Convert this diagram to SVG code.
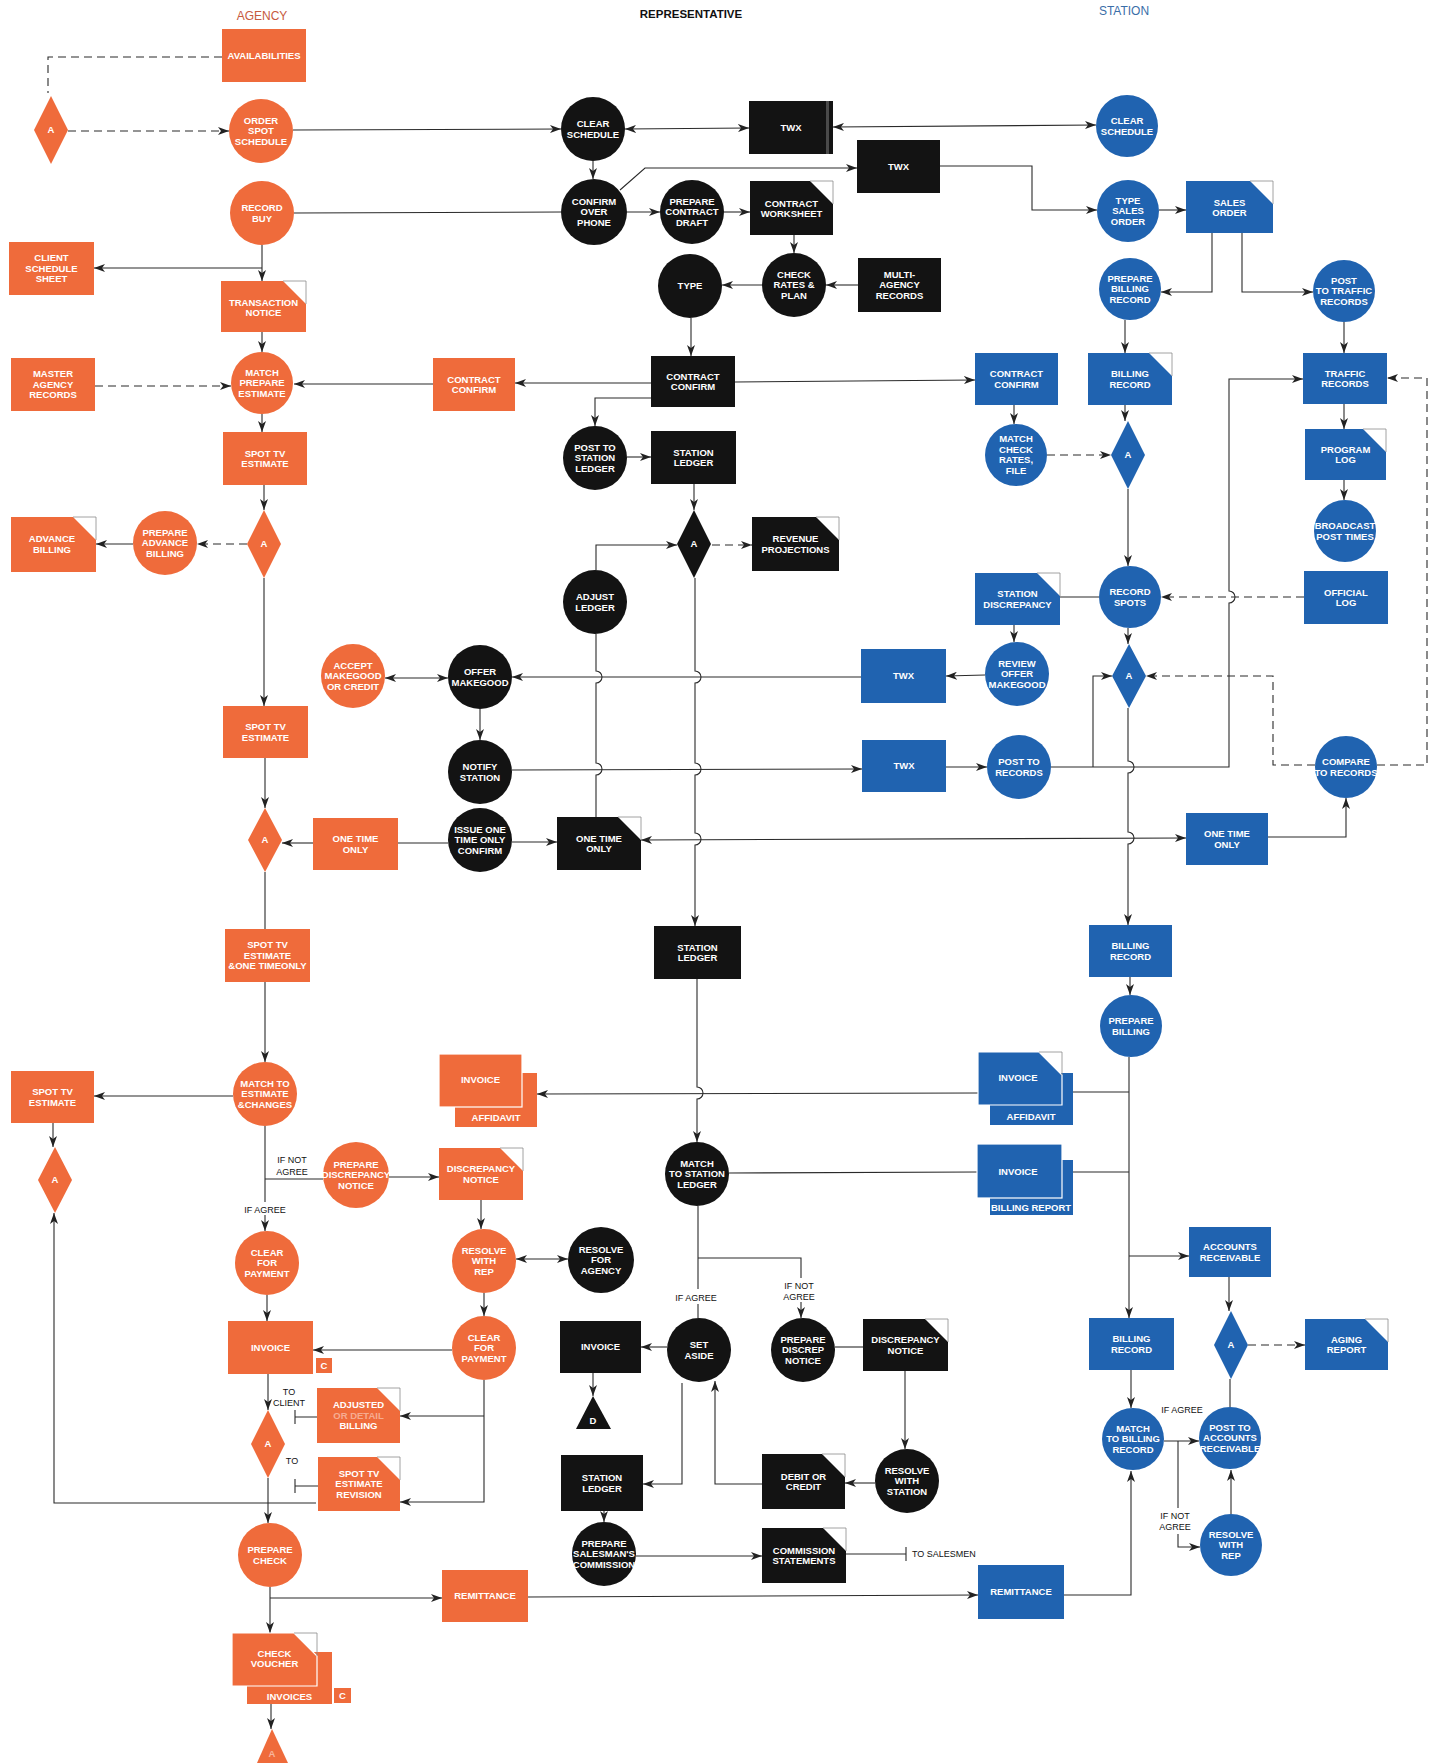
<svg xmlns="http://www.w3.org/2000/svg" width="1436" height="1764" viewBox="0 0 1436 1764">
<defs>
<style>
.o{fill:#ef6b3b}
.k{fill:#131313}
.b{fill:#2063b0}
.t{font-family:"Liberation Sans",Arial,sans-serif;font-weight:bold;font-size:9.5px;fill:#fff;text-anchor:middle}
.lb{font-family:"Liberation Sans",Arial,sans-serif;font-size:9px;fill:#111;text-anchor:middle}
.l{fill:none;stroke:#2a2a2a;stroke-width:1.1}
.d{stroke-dasharray:8 5}
.a{marker-end:url(#ah)}
.aa{marker-start:url(#ah);marker-end:url(#ah)}
.fo{fill:none;stroke:#8a8a8a;stroke-width:0.8}
.sh{stroke:#fff;stroke-width:1.2}
</style>
<marker id="ah" viewBox="0 0 11 8" refX="11" refY="4" markerWidth="11" markerHeight="8" markerUnits="userSpaceOnUse" orient="auto-start-reverse"><path d="M0,0 L11,4 L0,8 L3,4 Z" fill="#222"/></marker>
</defs>
<rect width="1436" height="1764" fill="#fff"/>

<g id="titles">
<text x="262" y="20" style="font-family:'Liberation Sans',Arial,sans-serif;font-size:12px;fill:#c65a3e;text-anchor:middle">AGENCY</text>
<text x="691" y="18" style="font-family:'Liberation Sans',Arial,sans-serif;font-size:11.5px;font-weight:bold;fill:#111;text-anchor:middle">REPRESENTATIVE</text>
<text x="1124" y="15" style="font-family:'Liberation Sans',Arial,sans-serif;font-size:12px;fill:#3a6ea8;text-anchor:middle">STATION</text>
</g>

<g id="connectors">
<!-- agency -->
<path class="l d" d="M222,57 H48 V93"/>
<path class="l d a" d="M68,131 H229"/>
<path class="l a" d="M293,130 L561,129"/>
<path class="l" d="M294,213 L561,212"/>
<path class="l a" d="M262,245 V281"/>
<path class="l a" d="M262,268 H94"/>
<path class="l a" d="M262,332 V352"/>
<path class="l d a" d="M95,386 H231"/>
<path class="l a" d="M433,384 H294"/>
<path class="l a" d="M262,414 V432"/>
<path class="l a" d="M264,485 V510"/>
<path class="l d a" d="M247,544 H197"/>
<path class="l a" d="M133,544 H96"/>
<path class="l a" d="M264,578 V706"/>
<path class="l a" d="M265,758 V808"/>
<path class="l a" d="M313,843 H282"/>
<path class="l" d="M398,843 H448"/>
<path class="l aa" d="M385,678 H448"/>
<path class="l" d="M265,872 V929"/>
<path class="l a" d="M265,982 V1062"/>
<path class="l a" d="M233,1096 H94"/>
<path class="l a" d="M53,1123 V1147"/>
<path class="l a" d="M316,1503 H54 V1213"/>
<path class="l" d="M265,1126 V1202"/>
<path class="l a" d="M265,1215 V1231"/>
<path class="l" d="M265,1179 H323"/>
<path class="l a" d="M389,1177 H439"/>
<path class="l a" d="M481,1200 V1229"/>
<path class="l aa" d="M516,1259 H568"/>
<path class="l a" d="M484,1293 V1316"/>
<path class="l a" d="M452,1350 H313"/>
<path class="l a" d="M484,1380 V1502 H400"/>
<path class="l a" d="M484,1416 H400"/>
<path class="l a" d="M267,1295 V1321"/>
<path class="l a" d="M268,1374 V1410"/>
<path class="l a" d="M268,1478 V1523"/>
<path class="l" d="M317,1417 H295 M295,1410 V1424"/>
<path class="l" d="M318,1486 H295 M295,1479 V1493"/>
<path class="l a" d="M270,1587 V1633"/>
<path class="l a" d="M270,1598 H442"/>
<path class="l a" d="M528,1597 L978,1595"/>
<path class="l a" d="M271,1704 V1729"/>
<!-- representative -->
<path class="l a" d="M593,161 V179"/>
<path class="l aa" d="M625,129 L749,128"/>
<path class="l aa" d="M833,127 L1096,125"/>
<path class="l a" d="M620,190 L645,168 H857"/>
<path class="l a" d="M940,166 H1032 V210 H1097"/>
<path class="l a" d="M627,212 H660"/>
<path class="l a" d="M724,212 H750"/>
<path class="l a" d="M794,235 V253"/>
<path class="l a" d="M858,285 H826"/>
<path class="l a" d="M762,285 H722"/>
<path class="l a" d="M691,318 V356"/>
<path class="l a" d="M651,383 H515"/>
<path class="l a" d="M735,382 L975,380"/>
<path class="l a" d="M651,398 H595 V426"/>
<path class="l a" d="M627,457 H651"/>
<path class="l a" d="M694,484 V510"/>
<path class="l d a" d="M712,545 H752"/>
<path class="l a" d="M596,570 V545 H677"/>
<path class="l" d="M596,634 V671 A6,6 0 0 1 596,683 V763 A6,6 0 0 1 596,775 V817"/>
<path class="l a" d="M695,578 V671 A6,6 0 0 1 695,683 V763 A6,6 0 0 1 695,775 V833 A6,6 0 0 1 695,845 V926"/>
<path class="l a" d="M861,677 H512"/>
<path class="l a" d="M480,709 V740"/>
<path class="l a" d="M512,770 L862,769"/>
<path class="l a" d="M512,842 H557"/>
<path class="l aa" d="M641,840 L1186,838"/>
<path class="l a" d="M697,979 V1087 A6,6 0 0 1 697,1099 V1142"/>
<path class="l a" d="M978,1093 L537,1094"/>
<path class="l" d="M729,1173 L977,1172"/>
<path class="l" d="M698,1206 V1289"/>
<path class="l" d="M698,1304 V1318"/>
<path class="l" d="M698,1258 H801 V1278"/>
<path class="l a" d="M801,1302 V1318"/>
<path class="l a" d="M667,1347 H641"/>
<path class="l a" d="M593,1373 V1396"/>
<path class="l a" d="M682,1383 V1484 H643"/>
<path class="l a" d="M762,1484 H715 V1381"/>
<path class="l" d="M835,1347 H863"/>
<path class="l a" d="M905,1371 V1449"/>
<path class="l a" d="M875,1483 H845"/>
<path class="l a" d="M604,1511 V1522"/>
<path class="l a" d="M636,1556 H762"/>
<path class="l" d="M846,1554 H906 M906,1547 V1561"/>
<!-- station -->
<path class="l a" d="M1159,210 H1186"/>
<path class="l a" d="M1212,233 V292 H1161"/>
<path class="l a" d="M1242,233 V292 H1313"/>
<path class="l a" d="M1125,320 V353"/>
<path class="l a" d="M1344,322 V353"/>
<path class="l a" d="M1014,405 V424"/>
<path class="l d a" d="M1047,455 H1111"/>
<path class="l a" d="M1125,405 V421"/>
<path class="l a" d="M1128,489 V566"/>
<path class="l a" d="M1344,404 V429"/>
<path class="l a" d="M1344,480 V500"/>
<path class="l d a" d="M1304,597 H1161"/>
<path class="l" d="M1099,597 H1060"/>
<path class="l a" d="M1014,625 V642"/>
<path class="l a" d="M985,675 L946,676"/>
<path class="l a" d="M1128,628 V644"/>
<path class="l a" d="M946,767 H987"/>
<path class="l a" d="M1051,767 H1229 V603 A6,6 0 0 0 1229,591 V379 H1303"/>
<path class="l a" d="M1093,767 V676 H1112"/>
<path class="l a" d="M1128,708 V761 A6,6 0 0 1 1128,773 V832 A6,6 0 0 1 1128,844 V925"/>
<path class="l d a" d="M1315,765 H1273 V676 H1146"/>
<path class="l d a" d="M1377,765 H1427 V378 H1387"/>
<path class="l a" d="M1268,837 H1346 V798"/>
<path class="l a" d="M1130,977 V995"/>
<path class="l a" d="M1129,1057 V1318"/>
<path class="l a" d="M1129,1092 H1062"/>
<path class="l a" d="M1129,1172 H1062"/>
<path class="l a" d="M1129,1256 H1189"/>
<path class="l a" d="M1229,1277 V1311"/>
<path class="l d a" d="M1248,1345 H1305"/>
<path class="l a" d="M1131,1370 V1408"/>
<path class="l a" d="M1164,1441 H1199"/>
<path class="l" d="M1178,1441 V1508"/>
<path class="l a" d="M1178,1534 V1547 H1200"/>
<path class="l a" d="M1231,1514 V1470"/>
<path class="l" d="M1230,1407 V1379"/>
<path class="l a" d="M1064,1595 H1131 V1471"/>
</g>

<g id="labels">
<text class="lb"><tspan x="292" y="1163">IF NOT</tspan><tspan x="292" y="1174.5">AGREE</tspan></text>
<text class="lb" x="265" y="1212.5">IF AGREE</text>
<text class="lb"><tspan x="289" y="1395">TO</tspan><tspan x="289" y="1406">CLIENT</tspan></text>
<text class="lb" x="292" y="1463.5">TO</text>
<text class="lb" x="696" y="1300.5">IF AGREE</text>
<text class="lb"><tspan x="799" y="1288.5">IF NOT</tspan><tspan x="799" y="1300">AGREE</tspan></text>
<text class="lb" x="912" y="1557" style="text-anchor:start">TO SALESMEN</text>
<text class="lb" x="1182" y="1412.5">IF AGREE</text>
<text class="lb"><tspan x="1175" y="1518.5">IF NOT</tspan><tspan x="1175" y="1530">AGREE</tspan></text>
</g>

<!-- AGENCY -->
<g id="availabilities"><rect class="o" x="222" y="29" width="84" height="53"/><text class="t" x="264" y="58.7">AVAILABILITIES</text></g>
<g id="agency-decision-1"><polygon class="o" points="51,96 68,130 51,164 34,130"/><text class="t" x="51" y="133.2">A</text></g>
<g id="order-spot-schedule"><circle class="o" cx="261" cy="131" r="32"/><text class="t"><tspan x="261" y="123.7">ORDER</tspan><tspan x="261" y="134.2">SPOT</tspan><tspan x="261" y="144.7">SCHEDULE</tspan></text></g>
<g id="record-buy"><circle class="o" cx="262" cy="213" r="32"/><text class="t"><tspan x="262" y="211">RECORD</tspan><tspan x="262" y="221.5">BUY</tspan></text></g>
<g id="client-schedule-sheet"><rect class="o" x="9" y="242" width="85" height="53"/><text class="t"><tspan x="51.5" y="261.2">CLIENT</tspan><tspan x="51.5" y="271.7">SCHEDULE</tspan><tspan x="51.5" y="282.2">SHEET</tspan></text></g>
<g id="transaction-notice"><path class="o" d="M221,281 H283 L306,304 V332 H221 Z"/><path class="fo" d="M283,281 H306 V304"/><text class="t"><tspan x="263.5" y="306">TRANSACTION</tspan><tspan x="263.5" y="316">NOTICE</tspan></text></g>
<g id="match-prepare-estimate"><circle class="o" cx="262" cy="383" r="31"/><text class="t"><tspan x="262" y="375.7">MATCH</tspan><tspan x="262" y="386.2">PREPARE</tspan><tspan x="262" y="396.7">ESTIMATE</tspan></text></g>
<g id="master-agency-records"><rect class="o" x="11" y="358" width="84" height="53"/><text class="t"><tspan x="53" y="377.2">MASTER</tspan><tspan x="53" y="387.7">AGENCY</tspan><tspan x="53" y="398.2">RECORDS</tspan></text></g>
<g id="agency-contract-confirm"><rect class="o" x="433" y="358" width="82" height="53"/><text class="t"><tspan x="474" y="382.5">CONTRACT</tspan><tspan x="474" y="393">CONFIRM</tspan></text></g>
<g id="spot-tv-estimate-1"><rect class="o" x="223" y="432" width="84" height="53"/><text class="t"><tspan x="265" y="456.5">SPOT TV</tspan><tspan x="265" y="467">ESTIMATE</tspan></text></g>
<g id="agency-decision-2"><polygon class="o" points="264,510 281,544 264,578 247,544"/><text class="t" x="264" y="547.2">A</text></g>
<g id="prepare-advance-billing"><circle class="o" cx="165" cy="543" r="32"/><text class="t"><tspan x="165" y="535.7">PREPARE</tspan><tspan x="165" y="546.2">ADVANCE</tspan><tspan x="165" y="556.7">BILLING</tspan></text></g>
<g id="advance-billing"><path class="o" d="M11,517 H73 L96,540 V572 H11 Z"/><path class="fo" d="M73,517 H96 V540"/><text class="t"><tspan x="52" y="542">ADVANCE</tspan><tspan x="52" y="552.5">BILLING</tspan></text></g>
<g id="accept-makegood"><circle class="o" cx="353" cy="676" r="32"/><text class="t"><tspan x="353" y="668.7">ACCEPT</tspan><tspan x="353" y="679.2">MAKEGOOD</tspan><tspan x="353" y="689.7">OR CREDIT</tspan></text></g>
<g id="spot-tv-estimate-2"><rect class="o" x="223" y="706" width="85" height="52"/><text class="t"><tspan x="265.5" y="730">SPOT TV</tspan><tspan x="265.5" y="740.5">ESTIMATE</tspan></text></g>
<g id="agency-decision-3"><polygon class="o" points="265,808 282,840 265,872 248,840"/><text class="t" x="265" y="843.2">A</text></g>
<g id="agency-one-time-only"><rect class="o" x="313" y="818" width="85" height="52"/><text class="t"><tspan x="355.5" y="842">ONE TIME</tspan><tspan x="355.5" y="852.5">ONLY</tspan></text></g>
<g id="spot-tv-estimate-one-time"><rect class="o" x="225" y="929" width="85" height="53"/><text class="t"><tspan x="267.5" y="948.2">SPOT TV</tspan><tspan x="267.5" y="958.7">ESTIMATE</tspan><tspan x="267.5" y="969.2">&amp;ONE TIMEONLY</tspan></text></g>
<g id="match-to-estimate"><circle class="o" cx="265" cy="1094" r="32"/><text class="t"><tspan x="265" y="1086.7">MATCH TO</tspan><tspan x="265" y="1097.2">ESTIMATE</tspan><tspan x="265" y="1107.7">&amp;CHANGES</tspan></text></g>
<g id="spot-tv-estimate-3"><rect class="o" x="11" y="1071" width="83" height="52"/><text class="t"><tspan x="52.5" y="1095">SPOT TV</tspan><tspan x="52.5" y="1105.5">ESTIMATE</tspan></text></g>
<g id="agency-decision-4"><polygon class="o" points="55,1147 72,1180 55,1213 38,1180"/><text class="t" x="55" y="1183.2">A</text></g>
<g id="prepare-discrepancy-notice"><circle class="o" cx="356" cy="1175" r="33"/><text class="t"><tspan x="356" y="1167.7">PREPARE</tspan><tspan x="356" y="1178.2">DISCREPANCY</tspan><tspan x="356" y="1188.7">NOTICE</tspan></text></g>
<g id="agency-invoice-affidavit"><rect class="o" x="455" y="1073" width="82" height="54"/><rect class="o sh" x="439" y="1054" width="83" height="53"/><text class="t" x="480.5" y="1083">INVOICE</text><text class="t" x="496" y="1121">AFFIDAVIT</text></g>
<g id="agency-discrepancy-notice"><path class="o" d="M439,1148 H500 L523,1171 V1200 H439 Z"/><path class="fo" d="M500,1148 H523 V1171"/><text class="t"><tspan x="481" y="1172">DISCREPANCY</tspan><tspan x="481" y="1182.5">NOTICE</tspan></text></g>
<g id="clear-for-payment-1"><circle class="o" cx="267" cy="1263" r="32"/><text class="t"><tspan x="267" y="1255.7">CLEAR</tspan><tspan x="267" y="1266.2">FOR</tspan><tspan x="267" y="1276.7">PAYMENT</tspan></text></g>
<g id="resolve-with-rep"><circle class="o" cx="484" cy="1261" r="32"/><text class="t"><tspan x="484" y="1253.7">RESOLVE</tspan><tspan x="484" y="1264.2">WITH</tspan><tspan x="484" y="1274.7">REP</tspan></text></g>
<g id="clear-for-payment-2"><circle class="o" cx="484" cy="1348" r="32"/><text class="t"><tspan x="484" y="1340.7">CLEAR</tspan><tspan x="484" y="1351.2">FOR</tspan><tspan x="484" y="1361.7">PAYMENT</tspan></text></g>
<g id="agency-invoice"><rect class="o" x="228" y="1321" width="85" height="53"/><text class="t" x="270.5" y="1350.7">INVOICE</text><rect class="o" x="316" y="1358" width="16" height="15"/><text class="t" x="324" y="1369">C</text></g>
<g id="agency-decision-5"><polygon class="o" points="268,1410 285,1444 268,1478 251,1444"/><text class="t" x="268" y="1447.2">A</text></g>
<g id="adjusted-billing"><path class="o" d="M317,1388 H377 L400,1411 V1443 H317 Z"/><path class="fo" d="M377,1388 H400 V1411"/><text class="t"><tspan x="358.5" y="1408.2">ADJUSTED</tspan><tspan x="358.5" y="1418.7" fill-opacity="0.45">OR DETAIL</tspan><tspan x="358.5" y="1429.2">BILLING</tspan></text></g>
<g id="spot-tv-estimate-revision"><path class="o" d="M318,1457 H377 L400,1480 V1511 H318 Z"/><path class="fo" d="M377,1457 H400 V1480"/><text class="t"><tspan x="359" y="1476.7">SPOT TV</tspan><tspan x="359" y="1487.2">ESTIMATE</tspan><tspan x="359" y="1497.7">REVISION</tspan></text></g>
<g id="prepare-check"><circle class="o" cx="270" cy="1555" r="32"/><text class="t"><tspan x="270" y="1553">PREPARE</tspan><tspan x="270" y="1563.5">CHECK</tspan></text></g>
<g id="agency-remittance"><rect class="o" x="442" y="1570" width="86" height="52"/><text class="t" x="485" y="1599.2">REMITTANCE</text></g>
<g id="check-voucher"><rect class="o" x="247" y="1652" width="85" height="52"/><path class="o sh" d="M232,1633 H294 L317,1656 V1686 H232 Z"/><path class="fo" d="M294,1633 H317 V1656"/><text class="t"><tspan x="274.5" y="1656.5">CHECK</tspan><tspan x="274.5" y="1667">VOUCHER</tspan></text><text class="t" x="289.5" y="1700">INVOICES</text><rect class="o" x="334" y="1688" width="17" height="15"/><text class="t" x="342.5" y="1699">C</text></g>
<g id="agency-file"><polygon class="o" points="257,1763 272,1729 288,1763"/><text class="t" x="272" y="1757" fill-opacity="0.5">A</text></g>

<!-- REPRESENTATIVE -->
<g id="rep-clear-schedule"><circle class="k" cx="593" cy="129" r="32"/><text class="t"><tspan x="593" y="127">CLEAR</tspan><tspan x="593" y="137.5">SCHEDULE</tspan></text></g>
<g id="rep-twx-1"><rect class="k" x="749" y="101" width="84" height="53"/><rect x="826" y="101" width="3" height="53" fill="#4a4a4a"/><text class="t" x="791" y="130.7">TWX</text></g>
<g id="confirm-over-phone"><circle class="k" cx="594" cy="212" r="33"/><text class="t"><tspan x="594" y="204.7">CONFIRM</tspan><tspan x="594" y="215.2">OVER</tspan><tspan x="594" y="225.7">PHONE</tspan></text></g>
<g id="rep-twx-2"><rect class="k" x="857" y="140" width="83" height="53"/><text class="t" x="898.5" y="169.7">TWX</text></g>
<g id="prepare-contract-draft"><circle class="k" cx="692" cy="212" r="32"/><text class="t"><tspan x="692" y="204.7">PREPARE</tspan><tspan x="692" y="215.2">CONTRACT</tspan><tspan x="692" y="225.7">DRAFT</tspan></text></g>
<g id="contract-worksheet"><path class="k" d="M750,181 H810 L833,204 V235 H750 Z"/><path class="fo" d="M810,181 H833 V204"/><text class="t"><tspan x="791.5" y="206.5">CONTRACT</tspan><tspan x="791.5" y="217">WORKSHEET</tspan></text></g>
<g id="check-rates-plan"><circle class="k" cx="794" cy="285" r="32"/><text class="t"><tspan x="794" y="277.7">CHECK</tspan><tspan x="794" y="288.2">RATES &amp;</tspan><tspan x="794" y="298.7">PLAN</tspan></text></g>
<g id="multi-agency-records"><rect class="k" x="858" y="258" width="83" height="54"/><text class="t"><tspan x="899.5" y="277.7">MULTI-</tspan><tspan x="899.5" y="288.2">AGENCY</tspan><tspan x="899.5" y="298.7">RECORDS</tspan></text></g>
<g id="type"><circle class="k" cx="690" cy="286" r="32"/><text class="t" x="690" y="289.2">TYPE</text></g>
<g id="rep-contract-confirm"><rect class="k" x="651" y="356" width="84" height="51"/><text class="t"><tspan x="693" y="379.5">CONTRACT</tspan><tspan x="693" y="390">CONFIRM</tspan></text></g>
<g id="post-to-station-ledger"><circle class="k" cx="595" cy="458" r="32"/><text class="t"><tspan x="595" y="450.7">POST TO</tspan><tspan x="595" y="461.2">STATION</tspan><tspan x="595" y="471.7">LEDGER</tspan></text></g>
<g id="station-ledger-1"><rect class="k" x="651" y="431" width="85" height="53"/><text class="t"><tspan x="693.5" y="455.5">STATION</tspan><tspan x="693.5" y="466">LEDGER</tspan></text></g>
<g id="rep-decision"><polygon class="k" points="694,510 711,544 694,578 677,544"/><text class="t" x="694" y="547.2">A</text></g>
<g id="revenue-projections"><path class="k" d="M752,517 H816 L839,540 V571 H752 Z"/><path class="fo" d="M816,517 H839 V540"/><text class="t"><tspan x="795.5" y="542">REVENUE</tspan><tspan x="795.5" y="552.5">PROJECTIONS</tspan></text></g>
<g id="adjust-ledger"><circle class="k" cx="595" cy="602" r="32"/><text class="t"><tspan x="595" y="600">ADJUST</tspan><tspan x="595" y="610.5">LEDGER</tspan></text></g>
<g id="offer-makegood"><circle class="k" cx="480" cy="677" r="32"/><text class="t"><tspan x="480" y="675">OFFER</tspan><tspan x="480" y="685.5">MAKEGOOD</tspan></text></g>
<g id="notify-station"><circle class="k" cx="480" cy="772" r="32"/><text class="t"><tspan x="480" y="770">NOTIFY</tspan><tspan x="480" y="780.5">STATION</tspan></text></g>
<g id="issue-one-time-only"><circle class="k" cx="480" cy="840" r="32"/><text class="t"><tspan x="480" y="832.7">ISSUE ONE</tspan><tspan x="480" y="843.2">TIME ONLY</tspan><tspan x="480" y="853.7">CONFIRM</tspan></text></g>
<g id="rep-one-time-only"><path class="k" d="M557,817 H618 L641,840 V870 H557 Z"/><path class="fo" d="M618,817 H641 V840"/><text class="t"><tspan x="599" y="841.5">ONE TIME</tspan><tspan x="599" y="852">ONLY</tspan></text></g>
<g id="station-ledger-2"><rect class="k" x="654" y="926" width="87" height="53"/><text class="t"><tspan x="697.5" y="950.5">STATION</tspan><tspan x="697.5" y="961">LEDGER</tspan></text></g>
<g id="match-to-station-ledger"><circle class="k" cx="697" cy="1174" r="32"/><text class="t"><tspan x="697" y="1166.7">MATCH</tspan><tspan x="697" y="1177.2">TO STATION</tspan><tspan x="697" y="1187.7">LEDGER</tspan></text></g>
<g id="resolve-for-agency"><circle class="k" cx="601" cy="1260" r="33"/><text class="t"><tspan x="601" y="1252.7">RESOLVE</tspan><tspan x="601" y="1263.2">FOR</tspan><tspan x="601" y="1273.7">AGENCY</tspan></text></g>
<g id="rep-invoice"><rect class="k" x="560" y="1321" width="81" height="52"/><text class="t" x="600.5" y="1350.2">INVOICE</text></g>
<g id="rep-file"><polygon class="k" points="576,1429 593,1396 611,1429"/><text class="t" x="593" y="1424">D</text></g>
<g id="set-aside"><circle class="k" cx="699" cy="1350" r="32"/><text class="t"><tspan x="699" y="1348">SET</tspan><tspan x="699" y="1358.5">ASIDE</tspan></text></g>
<g id="prepare-discrep-notice"><circle class="k" cx="803" cy="1350" r="32"/><text class="t"><tspan x="803" y="1342.7">PREPARE</tspan><tspan x="803" y="1353.2">DISCREP</tspan><tspan x="803" y="1363.7">NOTICE</tspan></text></g>
<g id="rep-discrepancy-notice"><path class="k" d="M863,1319 H925 L948,1342 V1371 H863 Z"/><path class="fo" d="M925,1319 H948 V1342"/><text class="t"><tspan x="905.5" y="1343">DISCREPANCY</tspan><tspan x="905.5" y="1353.5">NOTICE</tspan></text></g>
<g id="station-ledger-3"><rect class="k" x="561" y="1455" width="82" height="56"/><text class="t"><tspan x="602" y="1481">STATION</tspan><tspan x="602" y="1491.5">LEDGER</tspan></text></g>
<g id="debit-or-credit"><path class="k" d="M762,1454 H822 L845,1477 V1509 H762 Z"/><path class="fo" d="M822,1454 H845 V1477"/><text class="t"><tspan x="803.5" y="1479.5">DEBIT OR</tspan><tspan x="803.5" y="1490">CREDIT</tspan></text></g>
<g id="resolve-with-station"><circle class="k" cx="907" cy="1481" r="32"/><text class="t"><tspan x="907" y="1473.7">RESOLVE</tspan><tspan x="907" y="1484.2">WITH</tspan><tspan x="907" y="1494.7">STATION</tspan></text></g>
<g id="prepare-salesmans-commission"><circle class="k" cx="604" cy="1554" r="32"/><text class="t"><tspan x="604" y="1546.7">PREPARE</tspan><tspan x="604" y="1557.2">SALESMAN'S</tspan><tspan x="604" y="1567.7">COMMISSION</tspan></text></g>
<g id="commission-statements"><path class="k" d="M762,1528 H823 L846,1551 V1583 H762 Z"/><path class="fo" d="M823,1528 H846 V1551"/><text class="t"><tspan x="804" y="1553.5">COMMISSION</tspan><tspan x="804" y="1564">STATEMENTS</tspan></text></g>

<!-- STATION -->
<g id="st-clear-schedule"><circle class="b" cx="1127" cy="126" r="31"/><text class="t"><tspan x="1127" y="124">CLEAR</tspan><tspan x="1127" y="134.5">SCHEDULE</tspan></text></g>
<g id="type-sales-order"><circle class="b" cx="1128" cy="211" r="31"/><text class="t"><tspan x="1128" y="203.7">TYPE</tspan><tspan x="1128" y="214.2">SALES</tspan><tspan x="1128" y="224.7">ORDER</tspan></text></g>
<g id="sales-order"><path class="b" d="M1186,181 H1250 L1273,204 V233 H1186 Z"/><path class="fo" d="M1250,181 H1273 V204"/><text class="t"><tspan x="1229.5" y="205.5">SALES</tspan><tspan x="1229.5" y="216">ORDER</tspan></text></g>
<g id="prepare-billing-record"><circle class="b" cx="1130" cy="289" r="31"/><text class="t"><tspan x="1130" y="281.7">PREPARE</tspan><tspan x="1130" y="292.2">BILLING</tspan><tspan x="1130" y="302.7">RECORD</tspan></text></g>
<g id="post-to-traffic-records"><circle class="b" cx="1344" cy="291" r="31"/><text class="t"><tspan x="1344" y="283.7">POST</tspan><tspan x="1344" y="294.2">TO TRAFFIC</tspan><tspan x="1344" y="304.7">RECORDS</tspan></text></g>
<g id="st-contract-confirm"><rect class="b" x="975" y="353" width="83" height="52"/><text class="t"><tspan x="1016.5" y="377">CONTRACT</tspan><tspan x="1016.5" y="387.5">CONFIRM</tspan></text></g>
<g id="billing-record-1"><path class="b" d="M1088,353 H1149 L1172,376 V405 H1088 Z"/><path class="fo" d="M1149,353 H1172 V376"/><text class="t"><tspan x="1130" y="377">BILLING</tspan><tspan x="1130" y="387.5">RECORD</tspan></text></g>
<g id="traffic-records"><rect class="b" x="1303" y="353" width="84" height="51"/><text class="t"><tspan x="1345" y="376.5">TRAFFIC</tspan><tspan x="1345" y="387">RECORDS</tspan></text></g>
<g id="match-check-rates-file"><circle class="b" cx="1016" cy="455" r="31"/><text class="t"><tspan x="1016" y="442.4">MATCH</tspan><tspan x="1016" y="452.9">CHECK</tspan><tspan x="1016" y="463.4">RATES,</tspan><tspan x="1016" y="473.9">FILE</tspan></text></g>
<g id="st-decision-1"><polygon class="b" points="1128,421 1145,455 1128,489 1111,455"/><text class="t" x="1128" y="458.2">A</text></g>
<g id="program-log"><path class="b" d="M1305,429 H1363 L1386,452 V480 H1305 Z"/><path class="fo" d="M1363,429 H1386 V452"/><text class="t"><tspan x="1345.5" y="452.5">PROGRAM</tspan><tspan x="1345.5" y="463">LOG</tspan></text></g>
<g id="broadcast-post-times"><circle class="b" cx="1345" cy="531" r="31"/><text class="t"><tspan x="1345" y="529">BROADCAST</tspan><tspan x="1345" y="539.5">POST TIMES</tspan></text></g>
<g id="station-discrepancy"><path class="b" d="M975,573 H1037 L1060,596 V625 H975 Z"/><path class="fo" d="M1037,573 H1060 V596"/><text class="t"><tspan x="1017.5" y="597">STATION</tspan><tspan x="1017.5" y="607.5">DISCREPANCY</tspan></text></g>
<g id="record-spots"><circle class="b" cx="1130" cy="597" r="31"/><text class="t"><tspan x="1130" y="595">RECORD</tspan><tspan x="1130" y="605.5">SPOTS</tspan></text></g>
<g id="official-log"><rect class="b" x="1304" y="571" width="84" height="53"/><text class="t"><tspan x="1346" y="595.5">OFFICIAL</tspan><tspan x="1346" y="606">LOG</tspan></text></g>
<g id="review-offer-makegood"><circle class="b" cx="1017" cy="674" r="32"/><text class="t"><tspan x="1017" y="666.7">REVIEW</tspan><tspan x="1017" y="677.2">OFFER</tspan><tspan x="1017" y="687.7">MAKEGOOD</tspan></text></g>
<g id="st-twx-1"><rect class="b" x="861" y="649" width="85" height="54"/><text class="t" x="903.5" y="679.2">TWX</text></g>
<g id="st-decision-2"><polygon class="b" points="1129,644 1146,676 1129,708 1112,676"/><text class="t" x="1129" y="679.2">A</text></g>
<g id="st-twx-2"><rect class="b" x="862" y="740" width="84" height="52"/><text class="t" x="904" y="769.2">TWX</text></g>
<g id="post-to-records"><circle class="b" cx="1019" cy="767" r="32"/><text class="t"><tspan x="1019" y="765">POST TO</tspan><tspan x="1019" y="775.5">RECORDS</tspan></text></g>
<g id="compare-to-records"><circle class="b" cx="1346" cy="767" r="31"/><text class="t"><tspan x="1346" y="765">COMPARE</tspan><tspan x="1346" y="775.5">TO RECORDS</tspan></text></g>
<g id="st-one-time-only"><rect class="b" x="1186" y="813" width="82" height="52"/><text class="t"><tspan x="1227" y="837">ONE TIME</tspan><tspan x="1227" y="847.5">ONLY</tspan></text></g>
<g id="billing-record-2"><rect class="b" x="1089" y="925" width="83" height="52"/><text class="t"><tspan x="1130.5" y="949">BILLING</tspan><tspan x="1130.5" y="959.5">RECORD</tspan></text></g>
<g id="prepare-billing"><circle class="b" cx="1131" cy="1026" r="31"/><text class="t"><tspan x="1131" y="1024">PREPARE</tspan><tspan x="1131" y="1034.5">BILLING</tspan></text></g>
<g id="st-invoice-affidavit"><rect class="b" x="990" y="1073" width="83" height="52"/><path class="b sh" d="M978,1052 H1039 L1062,1075 V1105 H978 Z"/><path class="fo" d="M1039,1052 H1062 V1075"/><text class="t" x="1018" y="1081">INVOICE</text><text class="t" x="1031" y="1120">AFFIDAVIT</text></g>
<g id="st-invoice-billing-report"><rect class="b" x="990" y="1160" width="83" height="55"/><rect class="b sh" x="977" y="1144" width="85" height="54"/><text class="t" x="1018" y="1175">INVOICE</text><text class="t" x="1031" y="1211">BILLING REPORT</text></g>
<g id="accounts-receivable"><rect class="b" x="1189" y="1227" width="82" height="50"/><text class="t"><tspan x="1230" y="1250">ACCOUNTS</tspan><tspan x="1230" y="1260.5">RECEIVABLE</tspan></text></g>
<g id="billing-record-3"><rect class="b" x="1089" y="1318" width="85" height="52"/><text class="t"><tspan x="1131.5" y="1342">BILLING</tspan><tspan x="1131.5" y="1352.5">RECORD</tspan></text></g>
<g id="st-decision-3"><polygon class="b" points="1231,1311 1248,1345 1231,1379 1214,1345"/><text class="t" x="1231" y="1348.2">A</text></g>
<g id="aging-report"><path class="b" d="M1305,1319 H1365 L1388,1342 V1370 H1305 Z"/><path class="fo" d="M1365,1319 H1388 V1342"/><text class="t"><tspan x="1346.5" y="1342.5">AGING</tspan><tspan x="1346.5" y="1353">REPORT</tspan></text></g>
<g id="match-to-billing-record"><circle class="b" cx="1133" cy="1439" r="31"/><text class="t"><tspan x="1133" y="1431.7">MATCH</tspan><tspan x="1133" y="1442.2">TO BILLING</tspan><tspan x="1133" y="1452.7">RECORD</tspan></text></g>
<g id="post-to-accounts-receivable"><circle class="b" cx="1230" cy="1438" r="31"/><text class="t"><tspan x="1230" y="1430.7">POST TO</tspan><tspan x="1230" y="1441.2">ACCOUNTS</tspan><tspan x="1230" y="1451.7">RECEIVABLE</tspan></text></g>
<g id="st-resolve-with-rep"><circle class="b" cx="1231" cy="1545" r="31"/><text class="t"><tspan x="1231" y="1537.7">RESOLVE</tspan><tspan x="1231" y="1548.2">WITH</tspan><tspan x="1231" y="1558.7">REP</tspan></text></g>
<g id="st-remittance"><rect class="b" x="978" y="1565" width="86" height="54"/><text class="t" x="1021" y="1595.2">REMITTANCE</text></g>
</svg>
